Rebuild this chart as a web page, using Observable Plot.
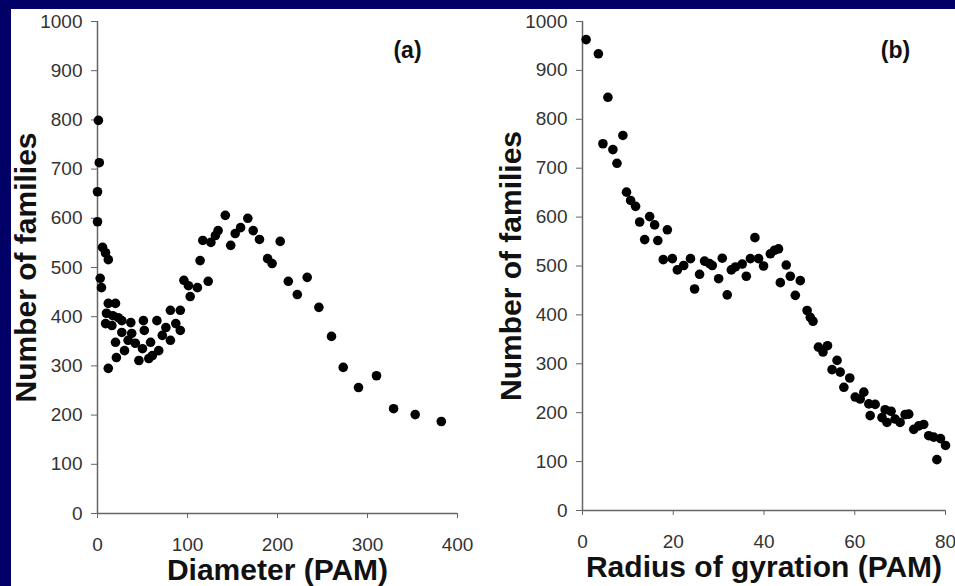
<!DOCTYPE html>
<html>
<head>
<meta charset="utf-8">
<script src="https://cdn.jsdelivr.net/npm/d3@7"></script>
<script src="https://cdn.jsdelivr.net/npm/@observablehq/plot@0.6"></script>
<style>
  html, body { margin: 0; padding: 0; width: 955px; height: 586px; overflow: hidden; background: #000066; }
  #panel { position: absolute; left: 11px; top: 9px; right: 0; bottom: 0; background: #ffffff; }
  #a { position: absolute; left: 0; top: 0; }
  #b { position: absolute; left: 480px; top: 0; }
</style>
</head>
<body>
<div id="panel"></div>
<div id="a"></div>
<div id="b"></div>
<script>
// Panel (a): number of families vs diameter (PAM)
const diameterPAM = [1,2,0,0,5.6,8.9,12,3,4.4,12,20,10,17,23,9,16,27,37,51,27,38,20,34,42,30,50,59,66,72,76,87,68,81,92,21,46,57,12,81,92,96,101,111,103,52,61,114,123,117,126,131,134,142,148,153,159,167,173,180,203,189,194,212,233,222,246,260,273,290,310,329,353,382];
const familiesA   = [799,713,654,593,541,530,516,478,459,427,427,407,402,398,386,382,392,388,392,368,366,348,352,346,331,335,348,392,362,378,386,331,352,372,317,311,315,295,413,413,474,463,459,441,372,321,514,472,555,551,565,575,606,545,569,581,600,575,557,553,518,508,472,480,445,419,360,297,256,280,213,201,187];

// Panel (b): number of families vs radius of gyration (PAM)
const radiusPAM = [0.8,3.5,5.6,4.5,8.9,6.7,7.6,9.7,10.6,11.7,12.6,14.8,15.9,18.7,13.7,16.6,17.8,19.8,20.9,22.3,23.8,24.7,25.8,26.9,28.0,28.6,30,30.8,31.9,32.8,33.7,35.2,36.1,37,38,38.8,39.9,41.4,42.3,43.2,43.6,44.9,45.8,46.9,48,49.5,50.2,50.8,52,53,54,56.1,55,56.8,58.9,57.6,60.1,61.2,62,63.1,64.5,63.4,66.7,68,66,67.1,68.9,70,71.1,71.9,73,74.1,75.2,76.3,77.4,78.1,78.9,80];
const familiesB = [963,934,845,750,767,738,710,651,634,622,590,601,584,574,554,552,513,515,492,501,515,453,483,510,505,501,474,516,441,492,498,504,479,515,558,515,500,525,532,535,466,502,479,440,470,409,395,387,334,324,337,307,288,283,271,252,232,228,242,218,217,194,206,203,190,180,187,180,196,197,166,173,176,153,150,104,147,133];

const yTicks = [0,100,200,300,400,500,600,700,800,900,1000];
const xTicksA = [0,100,200,300,400];
const xTicksB = [0,20,40,60,80];
const yTitle = "Number of families";
const xTitleA = "Diameter (PAM)";
const xTitleB = "Radius of gyration (PAM)";
const panelA = "(a)";
const panelB = "(b)";

const tableA = diameterPAM.map((d, i) => ({x: d, y: familiesA[i]}));
const tableB = radiusPAM.map((d, i) => ({x: d, y: familiesB[i]}));

const FONT = "'Liberation Sans', Arial, Helvetica, sans-serif";
const plain = d => String(d);

function makePlot({data, xDomain, xTicks, xTitle, panel, width, marginLeft, marginRight, marginBottom}) {
  return Plot.plot({
    width,
    height: 586,
    marginLeft,
    marginRight,
    marginTop: 21,
    marginBottom,
    style: {background: "transparent", overflow: "visible", fontFamily: FONT, fontSize: "19px", color: "#333"},
    x: {domain: xDomain, ticks: xTicks, axis: null},
    y: {domain: [0, 1000], ticks: yTicks, axis: null},
    marks: [
      Plot.axisY({ticks: yTicks, tickFormat: plain, tickSize: 6, tickPadding: 9, label: null, stroke: "#666", fill: "#333", fontSize: 19}),
      Plot.axisX({ticks: xTicks, tickFormat: plain, tickSize: 5, tickPadding: 19, label: null, stroke: "#666", fill: "#333", fontSize: 19}),
      Plot.ruleX([0], {stroke: "#666", strokeWidth: 1.5}),
      Plot.ruleY([0], {stroke: "#666", strokeWidth: 1.5}),
      Plot.dot(data, {x: "x", y: "y", r: 4.8, fill: "#000", stroke: "none"}),
      Plot.text([yTitle], {frameAnchor: "left", dx: -71, rotate: -90, textAnchor: "middle", lineAnchor: "middle", fontSize: 30, fontWeight: "bold", fill: "#111", fontFamily: FONT}),
      Plot.text([xTitle], {frameAnchor: "bottom", dy: 57, textAnchor: "middle", lineAnchor: "middle", fontSize: 30, fontWeight: "bold", fill: "#111", fontFamily: FONT}),
      Plot.text([panel], {frameAnchor: "top-right", dx: -50, dy: 29, textAnchor: "middle", lineAnchor: "middle", fontSize: 23, fontWeight: "bold", fill: "#111", fontFamily: FONT})
    ]
  });
}

document.getElementById("a").append(makePlot({
  data: tableA, xDomain: [0, 400], xTicks: xTicksA, xTitle: xTitleA, panel: panelA,
  width: 480, marginLeft: 97, marginRight: 23, marginBottom: 73
}));
document.getElementById("b").append(makePlot({
  data: tableB, xDomain: [0, 80], xTicks: xTicksB, xTitle: xTitleB, panel: panelB,
  width: 475, marginLeft: 102, marginRight: 10, marginBottom: 76
}));
</script>
</body>
</html>
